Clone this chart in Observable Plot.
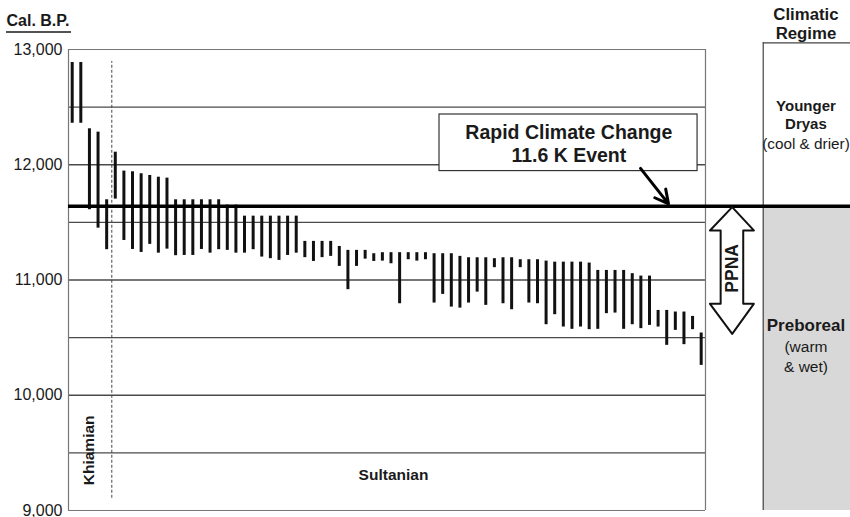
<!DOCTYPE html>
<html><head><meta charset="utf-8">
<script src="https://cdn.jsdelivr.net/npm/d3@7"></script>
<script src="https://cdn.jsdelivr.net/npm/@observablehq/plot@0.6"></script>
<style>body{margin:0;background:#fff} svg{display:block}</style>
</head><body><div id="chart"></div>
<script>
// Calibrated radiocarbon ranges (Cal. B.P.), sorted left to right
const barTop = [12887,12887,12312,12283,11696,12109,11945,11939,11922,11907,11892,11884,11696,11696,11696,11696,11696,11696,11650,11650,
  11554,11554,11554,11554,11554,11554,11554,11335,11335,11335,11335,11291,11257,11257,11257,11228,11237,11237,11237,11237,
  11237,11237,11228,11228,11228,11205,11193,11193,11193,11185,11193,11193,11176,11176,11176,11164,11155,11155,11155,11155,
  11147,11083,11083,11083,11083,11055,11034,11034,10736,10736,10722,10722,10684,10540];
const barBottom = [12360,12360,11610,11450,11263,11702,11343,11265,11239,11309,11233,11268,11211,11213,11213,11265,11233,11263,11257,11233,
  11233,11263,11199,11185,11170,11213,11233,11194,11161,11194,11205,11118,10916,11118,11181,11161,11164,11141,10794,11176,
  11164,11176,10800,10875,10765,10756,10800,10895,10780,11107,10794,10742,11107,10800,10794,10612,10699,10592,10572,10592,
  10569,10572,10708,10713,10572,10612,10578,10606,10592,10433,10563,10439,10569,10259];
const yTicks = [13000, 12000, 11000, 10000, 9000];
const yTickLabels = ["13,000", "12,000", "11,000", "10,000", "9,000"];
const gridValues = [12500, 12000, 11500, 11000, 10500, 10000, 9500];
const eventValue = 11640;
const eventLabel = ["Rapid Climate Change", "11.6 K Event"];
const periodLabels = ["Khiamian", "Sultanian"];
const regimeTitle = ["Climatic", "Regime"];
const youngerDryas = ["Younger", "Dryas", "(cool & drier)"];
const preboreal = ["Preboreal", "(warm", "& wet)"];

const bars = barTop.map((t, i) => ({i: i + 1, top: t, bottom: barBottom[i]}));

// layout constants in data units
const X0 = 0.5706, XR = 74.5, XP = 81.2, XEND = 92;
const font = "'Liberation Sans', Arial, Helvetica, sans-serif";
const ink = "#1a1a1a";

const arrowPts = [
  [77.60, 11632], [80.11, 11430], [78.88, 11430], [78.88, 10793], [80.11, 10793],
  [77.60, 10533], [75.02, 10793], [76.26, 10793], [76.26, 11430], [75.02, 11430], [77.60, 11632]
].map(([x, y]) => ({x, y}));

const chart = Plot.plot({
  width: 850, height: 517,
  marginLeft: 68, marginRight: 0, marginTop: 49, marginBottom: 7,
  x: {domain: [X0, 91.33], axis: null},
  y: {domain: [9000, 13000], axis: null},
  style: {fontFamily: font, background: "white", color: ink},
  marks: [
    // right panel
    Plot.rect([0], {x1: XP, x2: XEND, y1: 9000, y2: eventValue, fill: "#d8d8d8"}),
    Plot.ruleX([XP], {y1: 9000, y2: 13058, stroke: "#444", strokeWidth: 1.2}),
    Plot.ruleY([13058], {x1: XP, x2: XEND, stroke: "#444", strokeWidth: 1.2}),
    // grid + frame
    Plot.ruleY(gridValues, {x1: X0, x2: XR, stroke: "#4a4a4a", strokeWidth: 1.4}),
    Plot.ruleY([13000, 9000], {x1: X0, x2: XR, stroke: "#777", strokeWidth: 1.2}),
    Plot.ruleX([X0, XR], {y1: 9000, y2: 13000, stroke: "#777", strokeWidth: 1.2}),
    // Khiamian / Sultanian divider
    Plot.ruleX([5.596], {y1: 9106, y2: 12896, stroke: "#444", strokeWidth: 1, strokeDasharray: "3,2"}),
    // date ranges
    Plot.ruleX(bars, {x: "i", y1: "bottom", y2: "top", stroke: "#111", strokeWidth: 3}),
    // 11.6K event line
    Plot.ruleY([eventValue], {x1: X0, x2: XEND, stroke: "#000", strokeWidth: 3.5}),
    // annotation box
    Plot.rect([0], {x1: 43.63, x2: 73.58, y1: 11945, y2: 12436, fill: "white", stroke: "#333", strokeWidth: 1.2}),
    Plot.text(eventLabel, {x: 58.64, y: [12278, 12081], text: d => d, fontSize: 19.5, fontWeight: "bold", fill: ink}),
    Plot.arrow([0], {x1: 66.96, y1: 11968, x2: 70.21, y2: 11660, stroke: "#000", strokeWidth: 3, headLength: 11, headAngle: 55}),
    // PPNA double arrow
    Plot.line(arrowPts, {x: "x", y: "y", fill: "white", stroke: "#111", strokeWidth: 2, curve: "linear"}),
    Plot.text(["PPNA"], {x: 77.57, y: 11101, rotate: -90, fontSize: 17.5, fontWeight: "bold", fill: ink}),
    // y axis
    Plot.axisY(yTicks, {anchor: "left", tickSize: 0, tickPadding: 6, fontSize: 16, fill: ink,
      tickFormat: d => yTickLabels[yTicks.indexOf(d)]}),
    // titles
    Plot.text(["Cal. B.P."], {x: -6.625, y: 13245, textAnchor: "start", fontSize: 16, fontWeight: "bold", fill: ink}),
    Plot.ruleY([13152], {x1: -6.625, x2: 0.92, stroke: ink, strokeWidth: 1.5}),
    Plot.text(regimeTitle, {x: 86.16, y: [13306, 13136], text: d => d, fontSize: 16.8, fontWeight: "bold", fill: ink}),
    Plot.text(youngerDryas.slice(0, 2), {x: 86.16, y: [12506, 12356], text: d => d, fontSize: 15, fontWeight: "bold", fill: ink}),
    Plot.text([youngerDryas[2]], {x: 86.16, y: 12182, fontSize: 15.3, fill: ink}),
    Plot.text([preboreal[0]], {x: 86.16, y: 10606, fontSize: 17, fontWeight: "bold", fill: ink}),
    Plot.text(preboreal.slice(1), {x: 86.16, y: [10418, 10245], text: d => d, fontSize: 15.5, fill: ink}),
    // period labels
    Plot.text([periodLabels[0]], {x: 3.0, y: 9522, rotate: -90, fontSize: 15.5, fontWeight: "bold", fill: ink}),
    Plot.text([periodLabels[1]], {x: 38.29, y: 9305, fontSize: 15.5, fontWeight: "bold", fill: ink})
  ]
});
document.getElementById("chart").append(chart);
</script>
</body></html>
